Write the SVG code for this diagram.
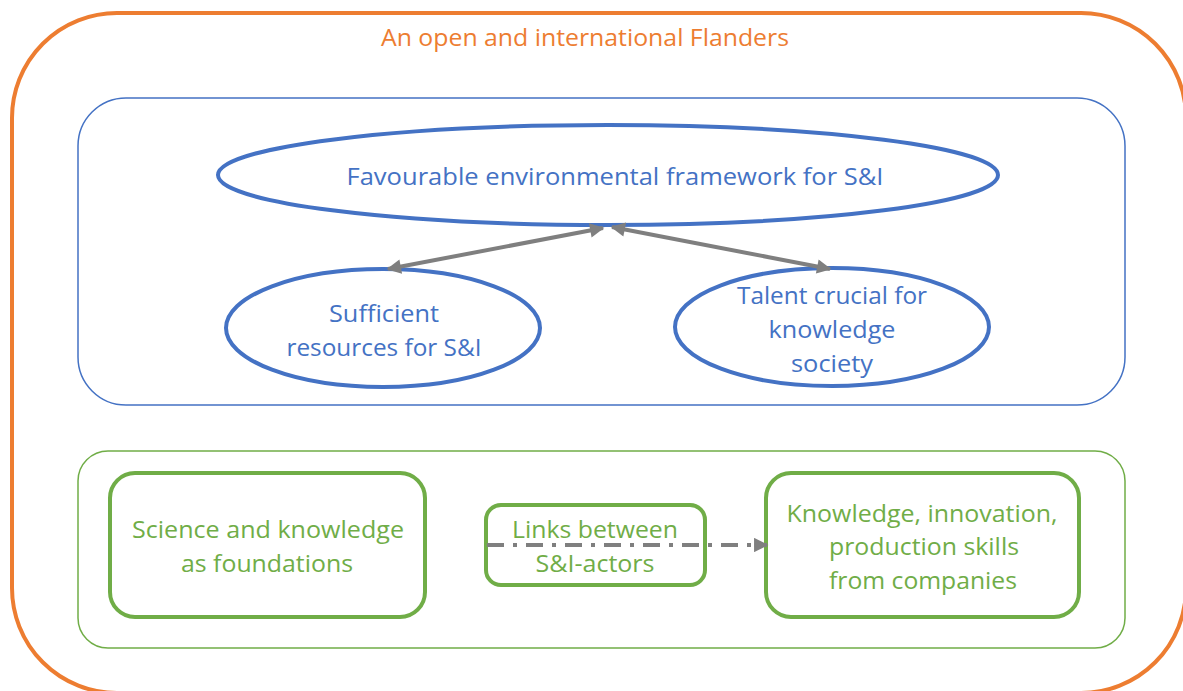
<svg xmlns="http://www.w3.org/2000/svg" width="1183" height="691" viewBox="0 0 1183 691">
<defs>
<style>
text{font-family:"Open Sans","Liberation Sans",sans-serif;text-anchor:middle}
.t{font-size:24px}
.blue{fill:#4472C4}
.green{fill:#70AD47}
.orange{fill:#ED7D31}
.ell{fill:#fff;stroke:#4472C4;stroke-width:4}
.gbox{fill:#fff;stroke:#70AD47;stroke-width:4}
.con{stroke:#7F7F7F;stroke-width:4;fill:none}
</style>
<marker id="ah" viewBox="0 0 10 10" refX="9" refY="5" markerWidth="4" markerHeight="3.6" orient="auto-start-reverse" markerUnits="strokeWidth">
<path d="M0,0 L10,5 L0,10 z" fill="#7F7F7F"/>
</marker>
</defs>
<rect width="1183" height="691" fill="#fff"/>
<g id="outer">
<rect x="12" y="13" width="1174" height="680" rx="105" ry="105" fill="none" stroke="#ED7D31" stroke-width="4"/>
<text class="t orange" x="585" y="46" textLength="408" lengthAdjust="spacingAndGlyphs">An open and international Flanders</text>
</g>
<g id="blue-group">
<rect x="78" y="98" width="1047" height="307" rx="48" ry="48" fill="none" stroke="#4472C4" stroke-width="1.5"/>
</g>
<g id="green-group">
<rect x="78" y="451" width="1047" height="197" rx="30" ry="30" fill="none" stroke="#70AD47" stroke-width="1.5"/>
</g>
<g id="framework">
<ellipse class="ell" cx="608" cy="175" rx="390" ry="50"/>
<text class="t blue" x="615" y="185" textLength="537" lengthAdjust="spacingAndGlyphs">Favourable environmental framework for S&amp;I</text>
</g>
<g id="resources">
<ellipse class="ell" cx="383" cy="328" rx="157" ry="59"/>
<text class="t blue" x="384" y="322" textLength="110" lengthAdjust="spacingAndGlyphs">Sufficient</text>
<text class="t blue" x="384" y="356" textLength="195" lengthAdjust="spacingAndGlyphs">resources for S&amp;I</text>
</g>
<g id="talent">
<ellipse class="ell" cx="832" cy="327" rx="157" ry="59"/>
<text class="t blue" x="832" y="304" textLength="190" lengthAdjust="spacingAndGlyphs">Talent crucial for</text>
<text class="t blue" x="832" y="338" textLength="127" lengthAdjust="spacingAndGlyphs">knowledge</text>
<text class="t blue" x="832" y="372" textLength="82" lengthAdjust="spacingAndGlyphs">society</text>
</g>
<g id="science">
<rect class="gbox" x="110" y="473" width="315" height="144" rx="25" ry="25"/>
<text class="t green" x="268" y="538" textLength="272" lengthAdjust="spacingAndGlyphs">Science and knowledge</text>
<text class="t green" x="267" y="572" textLength="172" lengthAdjust="spacingAndGlyphs">as foundations</text>
</g>
<g id="companies">
<rect class="gbox" x="766" y="473" width="313" height="144" rx="25" ry="25"/>
<text class="t green" x="922" y="522" textLength="271" lengthAdjust="spacingAndGlyphs">Knowledge, innovation,</text>
<text class="t green" x="924" y="555" textLength="190" lengthAdjust="spacingAndGlyphs">production skills</text>
<text class="t green" x="923" y="589" textLength="188" lengthAdjust="spacingAndGlyphs">from companies</text>
</g>
<g id="links">
<rect class="gbox" x="486" y="505" width="219" height="80" rx="15" ry="15"/>
<text class="t green" x="595" y="538" textLength="166" lengthAdjust="spacingAndGlyphs">Links between</text>
<text class="t green" x="595" y="572" textLength="119" lengthAdjust="spacingAndGlyphs">S&amp;I-actors</text>
</g>
<g id="connectors">
<line class="con" x1="603" y1="228" x2="388" y2="269" marker-start="url(#ah)" marker-end="url(#ah)"/>
<line class="con" x1="612" y1="227" x2="830" y2="269" marker-start="url(#ah)" marker-end="url(#ah)"/>
<line class="con" x1="487" y1="545" x2="767" y2="545" stroke-dasharray="17 9 4 9" marker-end="url(#ah)"/>
</g>
</svg>
